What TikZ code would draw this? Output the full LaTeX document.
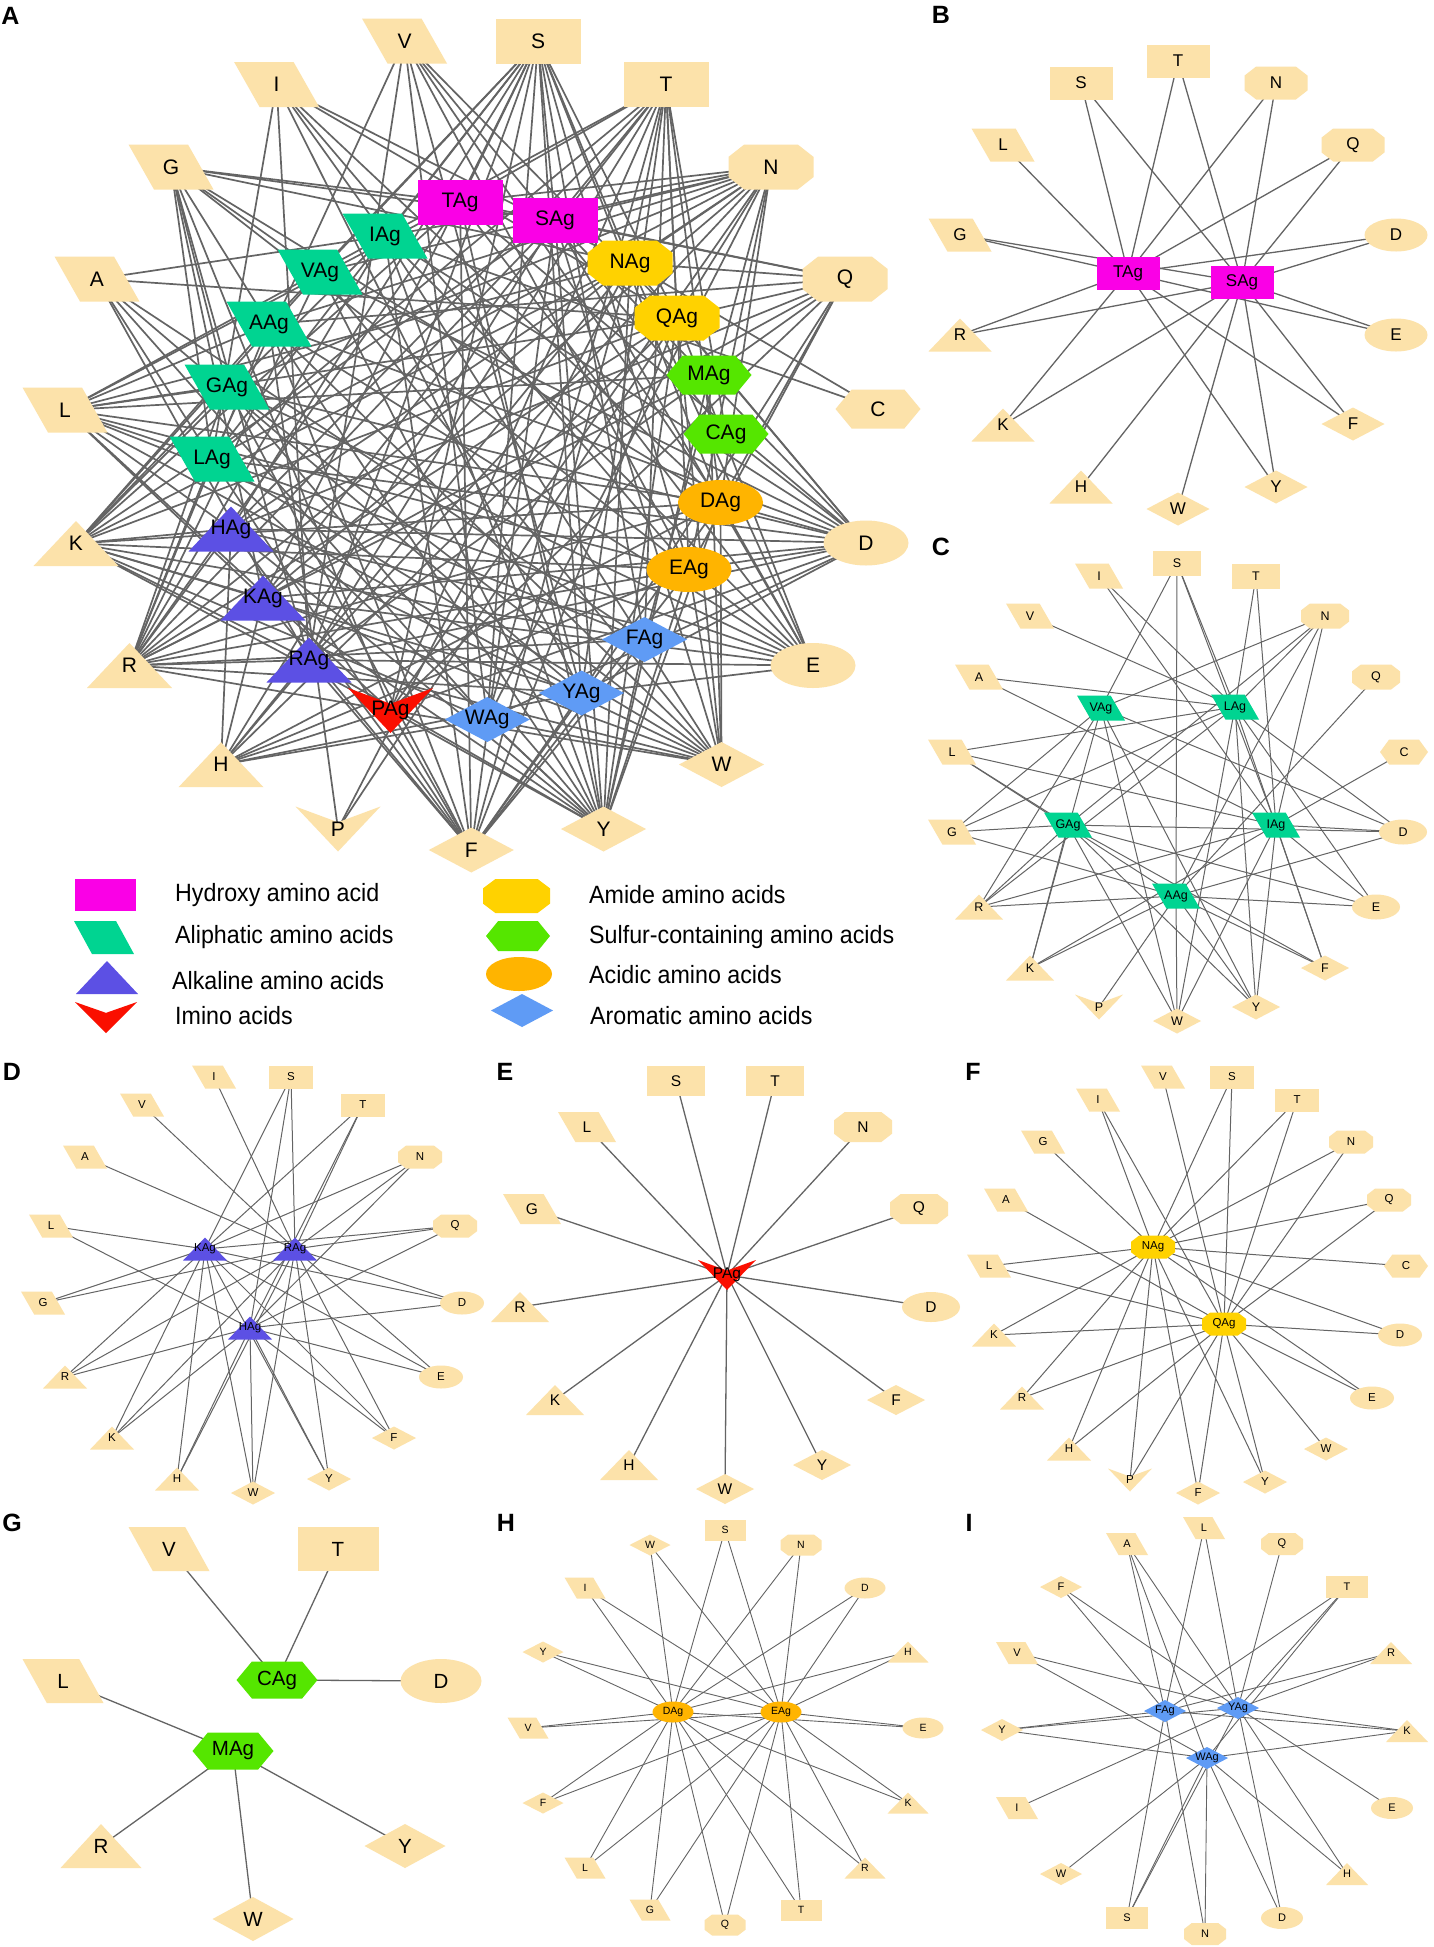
\documentclass[tikz,border=0pt]{standalone}
\usepackage{fontspec}
\setmainfont{Liberation Sans}
\newfontfamily\legfont[FakeStretch=0.93]{Liberation Sans}
\pgfdeclarelayer{bg}
\pgfdeclarelayer{edges}
\pgfsetlayers{bg,edges,main}
\definecolor{beige}{RGB}{252,226,170}
\definecolor{hydc}{RGB}{250,0,230}
\definecolor{alic}{RGB}{0,212,145}
\definecolor{alkc}{RGB}{92,80,228}
\definecolor{iminc}{RGB}{250,15,0}
\definecolor{amic}{RGB}{255,210,0}
\definecolor{sulc}{RGB}{85,230,0}
\definecolor{acic}{RGB}{255,180,0}
\definecolor{aroc}{RGB}{95,155,245}
\definecolor{edgec}{RGB}{100,100,100}
% unit shapes (y grows downward)
\def\shprect{(-1,-1) rectangle (1,1)}
\def\shppara{(-1,-1) -- (0.4,-1) -- (1,1) -- (-0.4,1) -- cycle}
\def\shpoct{(-0.63,-1) -- (0.63,-1) -- (1,-0.45) -- (1,0.45) -- (0.63,1) -- (-0.63,1) -- (-1,0.45) -- (-1,-0.45) -- cycle}
\def\shphex{(-0.62,-1) -- (0.62,-1) -- (1,0) -- (0.62,1) -- (-0.62,1) -- (-1,0) -- cycle}
\def\shptri{(0,-1) -- (1,1) -- (-1,1) -- cycle}
\def\shpdia{(0,-1) -- (1,0) -- (0,1) -- (-1,0) -- cycle}
\def\shpell{(0,0) ellipse [x radius=1pt, y radius=1pt]}
\def\shpvee{(-1,-1) -- (0,-0.3) -- (1,-1) -- (0,1) -- cycle}
% letter -> shape
\let\shpofS\shprect \let\shpofT\shprect
\let\shpofV\shppara \let\shpofI\shppara \let\shpofG\shppara \let\shpofA\shppara \let\shpofL\shppara
\let\shpofN\shpoct \let\shpofQ\shpoct
\let\shpofC\shphex \let\shpofM\shphex
\let\shpofK\shptri \let\shpofR\shptri \let\shpofH\shptri
\let\shpofD\shpell \let\shpofE\shpell
\let\shpofF\shpdia \let\shpofY\shpdia \let\shpofW\shpdia
\let\shpofP\shpvee
% letter -> class colour
\def\colofT{hydc}\def\colofS{hydc}
\def\colofV{alic}\def\colofI{alic}\def\colofG{alic}\def\colofA{alic}\def\colofL{alic}
\def\colofH{alkc}\def\colofK{alkc}\def\colofR{alkc}
\def\colofP{iminc}
\def\colofN{amic}\def\colofQ{amic}
\def\colofM{sulc}\def\colofC{sulc}
\def\colofD{acic}\def\colofE{acic}
\def\colofF{aroc}\def\colofY{aroc}\def\colofW{aroc}
% edge lists (antigen -> amino acids)
\def\lT{L,S,T,N,Q,G,D,E,R,K,Y,F}
\def\lS{S,T,N,Q,G,D,E,R,K,H,W,Y,F}
\def\lV{S,N,G,R,W,Y,D,K}
\def\lL{A,V,I,S,T,N,L,G,R,Y,W,E,D,F}
\def\lI{S,T,N,I,A,C,L,R,K,W,Y,F,E,D}
\def\lG{N,L,G,R,K,W,Y,F,E,D}
\def\lA{S,N,Q,L,G,R,K,P,W,Y,F,E,D}
\def\lK{S,T,N,L,Q,G,D,R,E,K,H,W,Y,F}
\def\lR{I,V,A,S,T,N,Q,G,D,R,E,K,H,W,Y,F}
\def\lH{S,T,N,L,Q,D,R,E,K,H,W,Y,F}
\def\lP{S,T,L,N,G,Q,R,D,K,F,H,Y,W}
\def\lN{G,I,S,T,N,Q,C,L,K,R,H,P,F,Y,D,E}
\def\lQ{A,I,V,S,T,N,Q,L,K,R,H,P,F,Y,W,E,D}
\def\lC{V,T,D}
\def\lM{L,R,W,Y}
\def\lD{W,S,N,I,D,Y,H,V,E,F,K,L,R,G,T,Q}
\def\lE{W,S,N,I,D,Y,H,V,E,F,K,L,R,G,T,Q}
\def\lF{A,L,F,T,R,Y,K,S,N}
\def\lY{A,L,Q,F,T,V,R,Y,K,I,E,H,S,D}
\def\lW{A,T,V,Y,K,W,H,S,N,D}
\newcommand\panelset[4]{\def\pw{#1}\def\ph{#2}\def\pfs{#3}\tikzset{edge/.style={draw=edgec,line width=#4}}}
\newcommand\onode[4]{%
  \expandafter\let\expandafter\tmpshp\csname shpof#2\endcsname
  \begin{scope}[shift={(#3,#4)},xscale=\pw/2,yscale=\ph/2]
    \fill[beige] \tmpshp;
  \end{scope}
  \node[lbl] (#1#2) at (#3,#4) {#2};}
\newcommand\anode[4]{%
  \expandafter\let\expandafter\tmpshp\csname shpof#2\endcsname
  \edef\tmpcol{\csname colof#2\endcsname}%
  \begin{scope}[shift={(#3,#4)},xscale=\pw/2,yscale=\ph/2]
    \fill[fill=\tmpcol] \tmpshp;
  \end{scope}
  \node[lbl] (#1#2Ag) at (#3,#4) {#2Ag};}
\newcommand\edgesof[2]{% panel, antigen letter
  \expandafter\let\expandafter\tmplist\csname l#2\endcsname
  \foreach \o in \tmplist {\draw[edge] (#1#2Ag.center) -- (#1\o.center);}}
\newcommand\legshape[7]{%
  \begin{scope}[shift={(#2,#3)},xscale=#4/2,yscale=#5/2]\fill[#7] #6;\end{scope}
  \coordinate (#1) at (#2,#3);}
\tikzset{
  lbl/.style={inner sep=0pt,text=black,font=\fontsize{\pfs}{\pfs}\selectfont},
  panlbl/.style={inner sep=0pt,font=\fontsize{25}{25}\selectfont\bfseries},
  legtxt/.style={inner sep=0pt,anchor=west,font=\legfont\fontsize{25}{25}\selectfont}
}
\begin{document}
\begin{tikzpicture}[x=1pt,y=-1pt]
\begin{pgfonlayer}{bg}
\fill[white] (0,0) rectangle (1434,1947);
\end{pgfonlayer}
\path[use as bounding box] (0,0) rectangle (1434,1947);

% ---------------- Panel A ----------------
\node[panlbl] (labA) at (10.5,15.5) {A};
\panelset{85}{45}{21}{1.7pt}
\onode{a}{V}{404.5}{41}
\onode{a}{S}{538}{41}
\onode{a}{I}{276.6}{84.5}
\onode{a}{T}{666}{84.5}
\onode{a}{G}{171}{167}
\onode{a}{N}{771}{167}
\onode{a}{A}{97}{279}
\onode{a}{Q}{845}{279}
\onode{a}{L}{65}{410}
\onode{a}{K}{76}{543.5}
\onode{a}{D}{866}{543}
\onode{a}{R}{129.5}{665.5}
\onode{a}{E}{813}{665.5}
\onode{a}{H}{221}{764.7}
\onode{a}{W}{721.5}{764.5}
\onode{a}{P}{338}{829}
\onode{a}{Y}{603.5}{829}
\onode{a}{F}{471.3}{850}
\anode{a}{T}{460}{202}
\anode{a}{S}{555}{220}
\anode{a}{I}{385}{236}
\anode{a}{V}{320}{272}
\anode{a}{A}{269}{324}
\anode{a}{G}{227}{387}
\anode{a}{L}{212}{459}
\anode{a}{N}{630}{263}
\anode{a}{Q}{677}{318}
\anode{a}{D}{720.5}{502.5}
\anode{a}{E}{689}{569.5}
\anode{a}{H}{231}{529}
\anode{a}{K}{263}{598}
\anode{a}{R}{309}{660}
\anode{a}{P}{390.5}{710.5}
\anode{a}{W}{487.3}{719.5}
\anode{a}{Y}{581.5}{693}
\anode{a}{F}{644.5}{639.5}
\def\ph{39}
\onode{a}{C}{878}{409}
\anode{a}{M}{709}{375}
\anode{a}{C}{726}{434}
\begin{pgfonlayer}{edges}
\foreach \g in {T,S,I,V,A,G,L,N,Q,M,C,D,E,H,K,R,P,W,Y,F} {\edgesof{a}{\g}}
\end{pgfonlayer}

% ---------------- Panel B ----------------
\node[panlbl] (labB) at (941,15) {B};
\panelset{63}{33}{17}{1.3pt}
\onode{b}{T}{1178}{61}
\onode{b}{S}{1081}{83}
\onode{b}{N}{1276}{83}
\onode{b}{L}{1003}{145}
\onode{b}{Q}{1353}{145}
\onode{b}{G}{960}{235}
\onode{b}{D}{1396}{235}
\onode{b}{R}{960}{335}
\onode{b}{E}{1396}{335}
\onode{b}{K}{1003}{425}
\onode{b}{F}{1353}{424}
\onode{b}{H}{1081}{487}
\onode{b}{Y}{1276}{487}
\onode{b}{W}{1178}{509}
\anode{b}{T}{1128}{273}
\anode{b}{S}{1242}{282}
\begin{pgfonlayer}{edges}
\foreach \g in {T,S} {\edgesof{b}{\g}}
\end{pgfonlayer}

% ---------------- Panel C ----------------
\node[panlbl] (labC) at (941,547) {C};
\panelset{48}{25}{12.5}{1pt}
\onode{c}{S}{1177}{563}
\onode{c}{I}{1099}{576}
\onode{c}{T}{1256}{576}
\onode{c}{V}{1030}{616}
\onode{c}{N}{1325}{616}
\onode{c}{A}{979}{677}
\onode{c}{Q}{1376}{677}
\onode{c}{L}{952}{752}
\onode{c}{C}{1404}{752}
\onode{c}{G}{952}{832}
\onode{c}{D}{1403}{832}
\onode{c}{R}{979}{907}
\onode{c}{E}{1376}{907}
\onode{c}{K}{1030}{968}
\onode{c}{F}{1325}{968}
\onode{c}{P}{1099}{1007}
\onode{c}{Y}{1256}{1007}
\onode{c}{W}{1177}{1021}
\anode{c}{V}{1101}{708}
\anode{c}{L}{1235}{707}
\anode{c}{G}{1068}{825}
\anode{c}{I}{1276}{825}
\anode{c}{A}{1176}{896}
\begin{pgfonlayer}{edges}
\foreach \g in {V,L,G,I,A} {\edgesof{c}{\g}}
\end{pgfonlayer}

% ---------------- Panel D ----------------
\node[panlbl] (labD) at (12,1072) {D};
\panelset{44}{23}{11.5}{1pt}
\onode{d}{I}{214}{1077}
\onode{d}{S}{291}{1077}
\onode{d}{V}{142}{1105}
\onode{d}{T}{363}{1105}
\onode{d}{A}{85}{1157}
\onode{d}{N}{420}{1157}
\onode{d}{L}{51}{1226}
\onode{d}{Q}{455}{1226}
\onode{d}{G}{43}{1303}
\onode{d}{D}{462}{1303}
\onode{d}{R}{65}{1377}
\onode{d}{E}{441}{1377}
\onode{d}{K}{112}{1438}
\onode{d}{F}{394}{1438}
\onode{d}{H}{177}{1479}
\onode{d}{Y}{329}{1479}
\onode{d}{W}{253}{1493}
\anode{d}{K}{205}{1249}
\anode{d}{R}{295}{1249}
\anode{d}{H}{250}{1328}
\begin{pgfonlayer}{edges}
\foreach \g in {K,R,H} {\edgesof{d}{\g}}
\end{pgfonlayer}

% ---------------- Panel E ----------------
\node[panlbl] (labE) at (505,1072) {E};
\panelset{58}{30}{15.5}{1.3pt}
\onode{e}{S}{676}{1081}
\onode{e}{T}{775}{1081}
\onode{e}{L}{587}{1127}
\onode{e}{N}{863}{1127}
\onode{e}{G}{532}{1209}
\onode{e}{Q}{919}{1209}
\onode{e}{R}{520}{1307}
\onode{e}{D}{931}{1307}
\onode{e}{K}{555}{1400}
\onode{e}{F}{896}{1400}
\onode{e}{H}{629}{1465}
\onode{e}{Y}{822}{1465}
\onode{e}{W}{725}{1489}
\anode{e}{P}{727}{1275}
\begin{pgfonlayer}{edges}
\edgesof{e}{P}
\end{pgfonlayer}

% ---------------- Panel F ----------------
\node[panlbl] (labF) at (973,1072) {F};
\panelset{44}{23}{11.5}{1pt}
\onode{f}{V}{1163}{1077}
\onode{f}{S}{1232}{1077}
\onode{f}{I}{1098}{1100}
\onode{f}{T}{1297}{1100}
\onode{f}{G}{1043}{1142}
\onode{f}{N}{1351}{1142}
\onode{f}{A}{1006}{1200}
\onode{f}{Q}{1389}{1200}
\onode{f}{L}{989}{1266}
\onode{f}{C}{1406}{1266}
\onode{f}{K}{994}{1335}
\onode{f}{D}{1400}{1335}
\onode{f}{R}{1022}{1398}
\onode{f}{E}{1372}{1398}
\onode{f}{H}{1069}{1449}
\onode{f}{W}{1326}{1449}
\onode{f}{P}{1130}{1480}
\onode{f}{Y}{1265}{1482}
\onode{f}{F}{1198}{1493}
\anode{f}{N}{1153}{1247}
\anode{f}{Q}{1224}{1324}
\begin{pgfonlayer}{edges}
\foreach \g in {N,Q} {\edgesof{f}{\g}}
\end{pgfonlayer}

% ---------------- Panel G ----------------
\node[panlbl] (labG) at (12,1523) {G};
\panelset{81}{44}{20.5}{1.3pt}
\onode{g}{V}{169}{1549}
\onode{g}{T}{338}{1549}
\onode{g}{L}{63}{1681}
\onode{g}{D}{441}{1681}
\onode{g}{R}{101}{1846}
\onode{g}{Y}{405}{1846}
\onode{g}{W}{253}{1919}
\def\ph{37}
\anode{g}{C}{277}{1680}
\anode{g}{M}{233}{1751}
\begin{pgfonlayer}{edges}
\foreach \g in {C,M} {\edgesof{g}{\g}}
\end{pgfonlayer}

% ---------------- Panel H ----------------
\node[panlbl] (labH) at (506,1523) {H};
\panelset{41}{21}{10.5}{0.9pt}
\onode{h}{S}{725}{1530}
\onode{h}{W}{650}{1545}
\onode{h}{N}{801}{1545}
\onode{h}{I}{585}{1588}
\onode{h}{D}{865}{1588}
\onode{h}{Y}{543}{1652}
\onode{h}{H}{908}{1652}
\onode{h}{V}{528}{1728}
\onode{h}{E}{923}{1728}
\onode{h}{F}{543}{1803}
\onode{h}{K}{908}{1803}
\onode{h}{L}{585}{1868}
\onode{h}{R}{865}{1868}
\onode{h}{G}{650}{1910}
\onode{h}{T}{801}{1910}
\onode{h}{Q}{725}{1925}
\anode{h}{D}{673}{1712}
\anode{h}{E}{781}{1712}
\begin{pgfonlayer}{edges}
\foreach \g in {D,E} {\edgesof{h}{\g}}
\end{pgfonlayer}

% ---------------- Panel I ----------------
\node[panlbl] (labI) at (969,1523) {I};
\panelset{42}{22}{11}{0.9pt}
\onode{i}{L}{1204}{1528}
\onode{i}{A}{1127}{1544}
\onode{i}{Q}{1282}{1544}
\onode{i}{F}{1061}{1587}
\onode{i}{T}{1347}{1587}
\onode{i}{V}{1017}{1653}
\onode{i}{R}{1391}{1653}
\onode{i}{Y}{1002}{1730}
\onode{i}{K}{1407}{1731}
\onode{i}{I}{1017}{1808}
\onode{i}{E}{1392}{1808}
\onode{i}{W}{1061}{1874}
\onode{i}{H}{1347}{1874}
\onode{i}{S}{1127}{1918}
\onode{i}{D}{1282}{1918}
\onode{i}{N}{1205}{1934}
\anode{i}{F}{1165}{1711}
\anode{i}{Y}{1238}{1708}
\anode{i}{W}{1207}{1758}
\begin{pgfonlayer}{edges}
\foreach \g in {F,Y,W} {\edgesof{i}{\g}}
\end{pgfonlayer}

% ---------------- Legend ----------------
\legshape{lg1}{105}{895}{61}{32}{\shprect}{hydc}
\legshape{lg2}{104}{937.5}{60}{33}{\shppara}{alic}
\legshape{lg3}{107}{977.5}{62}{33}{\shptri}{alkc}
\legshape{lg4}{106}{1017.5}{62}{31}{\shpvee}{iminc}
\legshape{lg5}{516.5}{896}{67}{34}{\shpoct}{amic}
\legshape{lg6}{518}{936}{64}{30}{\shphex}{sulc}
\legshape{lg7}{519}{974}{66}{34}{\shpell}{acic}
\legshape{lg8}{522}{1010.5}{62}{33}{\shpdia}{aroc}
\node[legtxt] (lt1) at (175,895) {Hydroxy amino acid};
\node[legtxt] (lt2) at (175,937) {Aliphatic amino acids};
\node[legtxt] (lt3) at (172,981) {Alkaline amino acids};
\node[legtxt] (lt4) at (175,1016) {Imino acids};
\node[legtxt] (lt5) at (589,895) {Amide amino acids};
\node[legtxt] (lt6) at (589,937) {Sulfur-containing amino acids};
\node[legtxt] (lt7) at (589,975) {Acidic amino acids};
\node[legtxt] (lt8) at (590,1016) {Aromatic amino acids};
\end{tikzpicture}
\end{document}
